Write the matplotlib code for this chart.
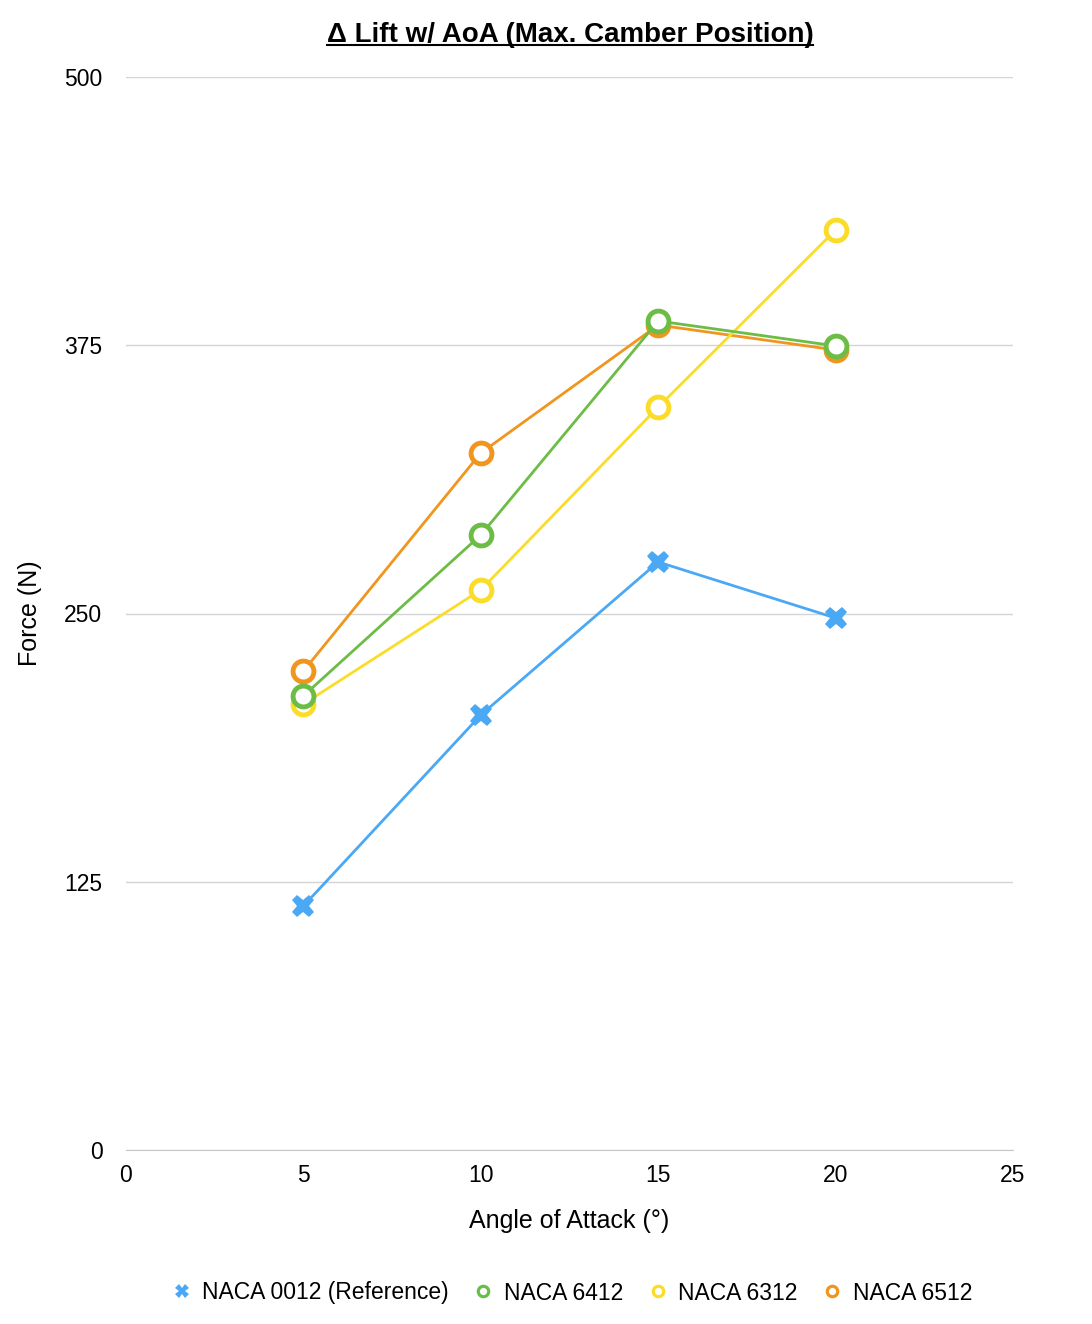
import matplotlib
matplotlib.use('Agg')
import matplotlib.pyplot as plt
from matplotlib.lines import Line2D

plt.rcParams['font.family'] = ['Liberation Sans', 'DejaVu Sans']

# 数据
aoa = [5, 10, 15, 20]
naca0012 = [113.7, 202.7, 274.0, 247.9]
naca6412 = [211.6, 286.6, 386.3, 374.7]
naca6312 = [207.8, 261.0, 346.2, 428.7]
naca6512 = [223.2, 324.8, 384.4, 372.8]

names = ['NACA 0012 (Reference)', 'NACA 6412', 'NACA 6312', 'NACA 6512']
colors = ['#4aa8f5', '#6cbd45', '#fadc29', '#f0961e']
series = [naca0012, naca6412, naca6312, naca6512]
yticks = [0, 125, 250, 375, 500]
xticks = [0, 5, 10, 15, 20, 25]

fig = plt.figure(figsize=(10.92, 13.24), dpi=100)
ax = fig.add_axes([126/1092, 1 - 1150/1324, (1013-126)/1092, (1150-77)/1324])

# 画线，第一个系列在最上面
for i, (name, vals, c) in enumerate(zip(names, series, colors)):
    z = 10 - i
    if i == 0:
        ax.plot(aoa, vals, color=c, lw=2, marker='X', ms=16, mew=0,
                zorder=z, label=name)
    else:
        ax.plot(aoa, vals, color=c, lw=2, marker='o', ms=15, mfc='white', mec=c, mew=3.5,
                zorder=z, label=name)

ax.set_xlim(0, 25)
ax.set_ylim(0, 500)
ax.set_xticks(xticks)
ax.set_yticks(yticks)
ax.tick_params(length=0, labelsize=16.5, pad=10)
ax.tick_params(axis='y', pad=17)
ax.grid(axis='y', color='#d4d4d4', lw=1)
ax.set_axisbelow(True)
for s in ['top', 'right', 'left']:
    ax.spines[s].set_visible(False)
ax.spines['bottom'].set_color('#c8c8c8')

ax.set_xlabel('Angle of Attack (°)', fontsize=18, labelpad=16)
ax.set_ylabel('Force (N)', fontsize=18, labelpad=16)

# 标题加下划线
t = fig.text(570/1092, 1 - 35/1324, 'Δ Lift w/ AoA (Max. Camber Position)', ha='center', va='center',
             fontsize=20, fontweight='bold')
fig.canvas.draw()
bb = t.get_window_extent().transformed(fig.transFigure.inverted())
fig.add_artist(Line2D([bb.x0, bb.x1], [bb.y0 + 0.002, bb.y0 + 0.002], color='black', lw=1.5,
                      transform=fig.transFigure))

handles = [Line2D([], [], color=c, ls='none', marker=('X' if i == 0 else 'o'),
                  ms=(10 if i == 0 else 7.5), mfc=(c if i == 0 else 'white'), mec=c, mew=(0 if i == 0 else 2.3))
           for i, c in enumerate(colors)]
fig.legend(handles, names, loc='center', bbox_to_anchor=(570/1092, 1 - 1293/1324), ncol=4,
           frameon=False, fontsize=16.5, handletextpad=0.3, columnspacing=0.9, handlelength=1.2)

plt.savefig('out.png', dpi=100)
